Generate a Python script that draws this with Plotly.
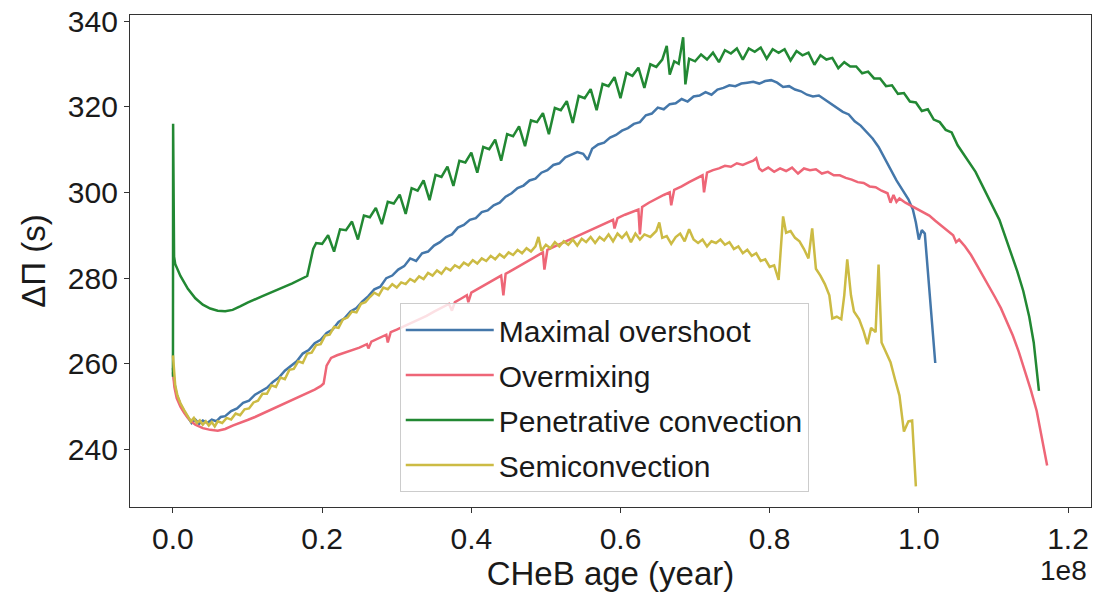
import plotly.graph_objects as go

# x values in units of 1e8 years; y values: period spacing (s)
max_x = [0.000, 0.002, 0.005, 0.010, 0.015, 0.020, 0.025, 0.030, 0.035, 0.040, 0.046, 0.052, 0.058, 0.064,
         0.070, 0.078, 0.086, 0.094, 0.102, 0.110, 0.118, 0.126, 0.134, 0.142, 0.150, 0.158, 0.166, 0.174,
         0.182, 0.190, 0.198, 0.206, 0.214, 0.222, 0.230, 0.238, 0.246, 0.254, 0.262, 0.270, 0.278, 0.286,
         0.294, 0.302, 0.310, 0.318, 0.326, 0.334, 0.342, 0.350, 0.358, 0.366, 0.374, 0.382, 0.390, 0.398,
         0.406, 0.414, 0.422, 0.430, 0.438, 0.446, 0.454, 0.462, 0.470, 0.478, 0.486, 0.494, 0.502, 0.510,
         0.518, 0.526, 0.534, 0.542, 0.550, 0.556, 0.562, 0.570, 0.578, 0.586, 0.594, 0.602, 0.610, 0.618,
         0.626, 0.634, 0.642, 0.650, 0.658, 0.666, 0.674, 0.682, 0.690, 0.698, 0.706, 0.714, 0.722, 0.730,
         0.738, 0.746, 0.754, 0.762, 0.770, 0.778, 0.786, 0.794, 0.802, 0.810, 0.818, 0.826, 0.834, 0.842,
         0.850, 0.858, 0.866, 0.874, 0.882, 0.890, 0.898, 0.906, 0.914, 0.922, 0.930, 0.938, 0.946, 0.954,
         0.962, 0.970, 0.978, 0.986, 0.992, 0.996, 1.000, 1.004, 1.008, 1.014, 1.022]
max_y = [259.0, 255.5, 252.8, 250.6, 248.9, 247.4, 246.2, 247.0, 246.0, 246.8, 246.2, 247.0, 246.6, 247.6,
         247.8, 249.0, 249.6, 250.9, 251.4, 252.8, 253.6, 254.4, 255.8, 256.8, 258.4, 259.6, 260.6, 262.4,
         263.2, 264.8, 265.6, 267.2, 268.0, 269.8, 270.6, 272.2, 273.0, 274.6, 275.8, 277.4, 278.0, 280.0,
         280.6, 282.0, 282.8, 284.6, 284.0, 285.8, 286.2, 287.6, 288.4, 289.6, 290.2, 291.8, 292.4, 293.6,
         294.0, 295.4, 295.8, 297.0, 297.6, 299.0, 299.8, 301.0, 301.6, 302.8, 303.2, 304.6, 305.2, 306.4,
         306.8, 308.2, 308.8, 309.4, 309.0, 307.6, 310.2, 311.2, 311.6, 312.8, 313.4, 314.4, 315.0, 316.0,
         316.4, 318.0, 318.4, 319.8, 319.4, 320.6, 320.8, 321.8, 321.2, 322.4, 322.6, 323.4, 322.8, 324.0,
         324.4, 325.0, 324.8, 325.4, 325.6, 325.8, 325.4, 326.0, 326.2, 325.6, 324.6, 324.8, 324.0, 323.6,
         322.8, 322.4, 322.6, 321.6, 320.8, 319.8, 318.8, 318.2, 316.6, 315.6, 314.0, 312.6, 310.6, 308.0,
         305.2, 302.8, 300.6, 298.4, 296.0, 293.0, 289.0, 291.2, 290.4, 277.0, 260.2]

over_x = [0.000, 0.002, 0.005, 0.010, 0.015, 0.020, 0.025, 0.030, 0.040, 0.050, 0.060, 0.070, 0.080, 0.090,
          0.100, 0.110, 0.120, 0.130, 0.140, 0.150, 0.160, 0.170, 0.180, 0.190, 0.198, 0.202, 0.206, 0.212,
          0.220, 0.230, 0.240, 0.250, 0.260, 0.262, 0.266, 0.276, 0.286, 0.288, 0.292, 0.300, 0.310, 0.320,
          0.330, 0.340, 0.350, 0.360, 0.370, 0.374, 0.378, 0.386, 0.394, 0.396, 0.400, 0.410, 0.420, 0.430,
          0.440, 0.443, 0.446, 0.456, 0.466, 0.476, 0.486, 0.496, 0.498, 0.502, 0.512, 0.522, 0.532, 0.542,
          0.552, 0.562, 0.572, 0.582, 0.590, 0.592, 0.596, 0.606, 0.616, 0.624, 0.626, 0.629, 0.638, 0.648,
          0.658, 0.666, 0.668, 0.672, 0.682, 0.692, 0.702, 0.710, 0.712, 0.716, 0.724, 0.732, 0.740, 0.748,
          0.756, 0.764, 0.772, 0.778, 0.782, 0.786, 0.790, 0.798, 0.806, 0.814, 0.822, 0.830, 0.838, 0.846,
          0.854, 0.862, 0.870, 0.878, 0.886, 0.894, 0.902, 0.910, 0.918, 0.926, 0.934, 0.942, 0.950, 0.958,
          0.962, 0.966, 0.970, 0.974, 0.982, 0.990, 0.998, 1.006, 1.014, 1.022, 1.030, 1.038, 1.046, 1.050,
          1.054, 1.062, 1.070, 1.078, 1.086, 1.094, 1.102, 1.110, 1.118, 1.126, 1.134, 1.142, 1.150, 1.158,
          1.165, 1.172]
over_y = [258.0, 254.5, 252.0, 250.0, 248.6, 247.4, 246.5, 245.8, 245.0, 244.6, 244.4, 244.8, 245.6, 246.2,
          246.9, 247.6, 248.4, 249.1, 249.9, 250.7, 251.5, 252.3, 253.2, 254.0, 254.8, 255.4, 259.6, 261.4,
          262.0, 262.6, 263.2, 263.8, 264.6, 263.6, 265.2, 266.0, 266.8, 265.0, 267.4, 268.0, 268.8, 269.6,
          270.4, 271.2, 272.2, 273.2, 274.0, 272.4, 274.4, 275.2, 276.0, 274.4, 276.6, 277.6, 278.6, 279.6,
          280.6, 276.0, 281.0, 282.0, 283.0, 284.0, 285.0, 286.0, 282.0, 286.6, 287.4, 288.2, 289.0, 289.8,
          290.6, 291.4, 292.2, 293.0, 293.6, 291.6, 294.0, 294.8, 295.4, 296.0, 290.2, 296.6, 297.6, 298.6,
          299.4, 300.0, 297.0, 300.6, 301.4, 302.4, 303.4, 304.0, 300.0, 304.6, 305.2, 305.6, 306.2, 306.0,
          306.8, 306.4, 307.0, 307.4, 308.0, 305.6, 305.0, 305.8, 304.8, 305.6, 305.0, 305.8, 304.4, 305.6,
          305.2, 305.4, 304.4, 304.8, 304.0, 304.0, 303.4, 303.0, 302.4, 302.2, 301.4, 301.2, 300.4, 299.8,
          297.6, 299.4, 297.8, 298.6, 297.6, 296.8, 296.0, 295.4, 294.6, 293.4, 292.2, 291.0, 290.0, 288.4,
          289.0, 287.4, 285.4, 283.0, 280.6, 278.2, 275.6, 273.0, 270.0, 266.6, 262.8, 258.6, 254.0, 249.0,
          243.0, 236.3]

pen_x = [0.000, 0.0002, 0.0015, 0.003, 0.010, 0.020, 0.030, 0.040, 0.050, 0.060, 0.070, 0.080, 0.090, 0.100,
         0.120, 0.140, 0.160, 0.180, 0.184, 0.188,
         0.192, 0.200, 0.208, 0.216, 0.224, 0.232, 0.240, 0.248, 0.256, 0.264, 0.272, 0.280, 0.288, 0.296,
         0.304, 0.312, 0.320, 0.328, 0.336, 0.344, 0.352, 0.360, 0.368, 0.376, 0.384, 0.392, 0.400, 0.408,
         0.416, 0.424, 0.432, 0.440, 0.448, 0.456, 0.464, 0.472, 0.480, 0.488, 0.496, 0.504, 0.512, 0.520,
         0.528, 0.536, 0.544, 0.552, 0.560, 0.568, 0.576, 0.584, 0.592, 0.600, 0.608, 0.616, 0.624, 0.632,
         0.640, 0.648, 0.656, 0.662, 0.666, 0.672, 0.678, 0.684, 0.687, 0.692, 0.700, 0.708, 0.716, 0.724,
         0.732, 0.740, 0.748, 0.756, 0.764, 0.772, 0.780, 0.788, 0.796, 0.804, 0.812, 0.820, 0.828, 0.836,
         0.844, 0.852, 0.860, 0.868, 0.876, 0.884, 0.892, 0.900, 0.908, 0.916, 0.924, 0.932, 0.940, 0.948,
         0.956, 0.964, 0.972, 0.980, 0.988, 0.996, 1.004, 1.012, 1.020, 1.028, 1.036, 1.044, 1.052, 1.060,
         1.068, 1.076, 1.084, 1.092, 1.100, 1.108, 1.116, 1.124, 1.132, 1.140, 1.148, 1.154, 1.158, 1.161]
pen_y = [257.0, 316.0, 285.0, 283.3, 280.5, 277.5, 275.3, 273.8, 272.9, 272.4, 272.3, 272.6, 273.4, 274.3,
         275.8, 277.3, 278.8, 280.5, 284.0, 286.8,
         288.2, 288.0, 290.0, 286.2, 291.4, 291.2, 293.2, 289.0, 294.6, 294.2, 296.4, 292.6, 297.8, 297.4,
         299.5, 295.0, 301.0, 300.4, 302.8, 298.2, 304.1, 303.6, 306.0, 301.5, 307.4, 307.0, 309.3, 304.6,
         310.6, 310.1, 312.3, 307.4, 313.6, 313.1, 315.4, 310.8, 316.8, 316.4, 318.5, 313.6, 319.7, 319.2,
         321.3, 316.2, 322.5, 322.0, 324.1, 319.2, 325.3, 324.8, 326.9, 322.0, 327.9, 327.2, 329.1, 324.4,
         329.9, 329.3, 331.0, 334.2, 327.5, 330.6, 330.0, 336.2, 325.2, 331.2, 330.6, 332.2, 331.0, 332.6,
         330.4, 333.2, 332.4, 333.6, 331.0, 333.6, 332.8, 333.8, 331.2, 333.4, 332.6, 333.4, 330.8, 333.0,
         332.0, 332.6, 329.8, 332.0, 331.0, 331.4, 329.0, 330.4, 329.4, 329.4, 327.8, 328.2, 326.6, 326.6,
         324.8, 325.0, 323.0, 323.2, 321.2, 321.0, 319.0, 319.4, 317.0, 316.4, 314.6, 314.0, 311.0, 309.0,
         307.0, 304.8, 302.0, 299.0, 296.4, 293.6, 289.6, 286.0, 281.6, 277.0, 271.0, 265.0, 259.0, 253.7]

semi_x = [0.000, 0.001, 0.003, 0.006, 0.010, 0.015, 0.020, 0.024, 0.028, 0.032, 0.036, 0.040, 0.044, 0.048,
          0.052, 0.056, 0.060, 0.066, 0.072, 0.078, 0.084, 0.090, 0.096, 0.102, 0.108, 0.114, 0.120, 0.126,
          0.132, 0.138, 0.144, 0.150, 0.156, 0.162, 0.168, 0.174, 0.180, 0.186, 0.192, 0.198, 0.204, 0.210,
          0.216, 0.222, 0.228, 0.234, 0.240, 0.246, 0.252, 0.258, 0.264, 0.270, 0.276, 0.282, 0.288, 0.294,
          0.300, 0.306, 0.312, 0.318, 0.324, 0.330, 0.336, 0.342, 0.348, 0.354, 0.360, 0.366, 0.372, 0.378,
          0.384, 0.390, 0.396, 0.402, 0.408, 0.414, 0.420, 0.426, 0.432, 0.438, 0.444, 0.450, 0.456, 0.462,
          0.468, 0.474, 0.480, 0.486, 0.490, 0.494, 0.500, 0.506, 0.512, 0.518, 0.524, 0.530, 0.536, 0.542,
          0.548, 0.554, 0.560, 0.566, 0.572, 0.578, 0.584, 0.590, 0.596, 0.602, 0.608, 0.614, 0.620, 0.626,
          0.632, 0.640, 0.648, 0.652, 0.656, 0.662, 0.668, 0.674, 0.680, 0.686, 0.692, 0.698, 0.704, 0.710,
          0.716, 0.722, 0.728, 0.734, 0.740, 0.746, 0.752, 0.758, 0.764, 0.770, 0.776, 0.782, 0.788, 0.794,
          0.800, 0.806, 0.812, 0.818, 0.822, 0.828, 0.834, 0.840, 0.846, 0.852, 0.857, 0.862, 0.868, 0.874,
          0.880, 0.884, 0.890, 0.896, 0.900, 0.904, 0.909, 0.913, 0.920, 0.926, 0.931, 0.936, 0.942, 0.946,
          0.950, 0.956, 0.962, 0.968, 0.974, 0.980, 0.986, 0.991, 0.996]
semi_y = [262.0, 258.5, 255.0, 252.6, 250.8, 249.2, 247.6, 246.6, 247.4, 246.2, 246.8, 245.8, 246.6, 245.6,
          246.4, 245.4, 246.6, 246.2, 247.4, 247.0, 248.4, 248.0, 249.4, 249.6, 251.0, 251.4, 253.0, 253.0,
          255.0, 254.6, 256.8, 256.4, 258.6, 258.8, 260.6, 260.2, 262.4, 262.6, 264.4, 264.6, 266.6, 266.8,
          268.6, 268.4, 270.4, 270.8, 272.2, 272.0, 274.0, 274.4, 275.6, 276.6, 276.0, 277.8, 277.4, 278.6,
          277.8, 279.0, 278.6, 279.8, 279.2, 280.4, 279.8, 281.2, 280.6, 281.8, 281.0, 282.4, 281.8, 283.0,
          282.4, 283.6, 283.0, 284.2, 283.4, 284.6, 284.0, 285.2, 284.4, 285.6, 284.8, 286.0, 285.4, 286.6,
          285.8, 287.0, 286.2, 287.4, 289.6, 286.4, 287.8, 287.0, 288.4, 287.4, 288.6, 287.8, 289.0, 287.6,
          289.2, 288.4, 289.6, 288.2, 289.6, 288.8, 290.2, 288.6, 290.4, 289.4, 290.6, 288.4, 290.4, 289.0,
          290.2, 289.6, 291.0, 293.0, 289.4, 289.8, 288.0, 289.6, 290.4, 288.6, 291.4, 289.0, 288.2, 289.0,
          287.4, 288.6, 288.2, 289.0, 287.8, 288.4, 286.8, 287.4, 285.8, 286.6, 285.2, 285.8, 284.0, 284.4,
          282.6, 283.0, 279.6, 294.4, 290.6, 291.0, 289.4, 288.6, 286.8, 284.6, 291.6, 282.2, 280.6, 278.6,
          276.0, 270.6, 271.0, 270.4, 276.0, 284.4, 276.0, 272.2, 270.4, 267.6, 264.6, 268.4, 267.4, 283.2,
          265.0, 262.6, 260.4, 256.4, 252.6, 244.2, 246.6, 246.8, 231.4]

names = ["Maximal overshoot", "Overmixing", "Penetrative convection", "Semiconvection"]
colors = ["#4477AA", "#EE6677", "#228833", "#CCBB44"]
series = [(max_x, max_y), (over_x, over_y), (pen_x, pen_y), (semi_x, semi_y)]

FONT = "Liberation Sans, Arial, Helvetica, sans-serif"
fig = go.Figure()
for i, ((xs, ys), name, col) in enumerate(zip(series, names, colors)):
    fig.add_trace(go.Scatter(x=xs, y=ys, mode="lines", name=name, legendgroup="g%d" % i,
                             line=dict(color=col, width=2.5)))

x_ticks = [0.0, 0.2, 0.4, 0.6, 0.8, 1.0, 1.2]
y_ticks = [240, 260, 280, 300, 320, 340]

fig.update_layout(
    width=1097, height=593,
    margin=dict(l=130, r=5, t=12, b=86),
    paper_bgcolor="white", plot_bgcolor="white",
    font=dict(family=FONT, size=30, color="#1a1a1a"),
    showlegend=True,
    legend=dict(x=0.2807, y=0.0303, xanchor="left", yanchor="bottom",
                bgcolor="rgba(255,255,255,0.8)", bordercolor="#cccccc", borderwidth=1,
                font=dict(family=FONT, size=30, color="#1a1a1a"), itemwidth=88,
                traceorder="grouped", tracegroupgap=3),
    xaxis=dict(range=[-0.0576, 1.2308], tickvals=x_ticks, tickformat=".1f",
               showgrid=False, zeroline=False, showline=True, mirror=True,
               linecolor="#333333", linewidth=1.3, ticks="outside", ticklen=5,
               tickcolor="#333333", tickwidth=1.2,
               tickfont=dict(family=FONT, size=30, color="#1a1a1a"),
               title=dict(text="CHeB age (year)", standoff=6,
                          font=dict(family=FONT, size=33, color="#1a1a1a"))),
    yaxis=dict(range=[226.6, 341.4], tickvals=y_ticks,
               showgrid=False, zeroline=False, showline=True, mirror=True,
               linecolor="#333333", linewidth=1.3, ticks="outside", ticklen=5,
               tickcolor="#333333", tickwidth=1.2,
               tickfont=dict(family=FONT, size=30, color="#1a1a1a"),
               title=dict(text="ΔΠ (s)", standoff=12,
                          font=dict(family=FONT, size=33, color="#1a1a1a"))),
)
fig.add_annotation(text="1e8", xref="paper", yref="paper", x=0.998, y=-0.13,
                   xanchor="right", yanchor="middle", showarrow=False,
                   font=dict(family=FONT, size=28, color="#1a1a1a"))

fig.write_html("out.html")
